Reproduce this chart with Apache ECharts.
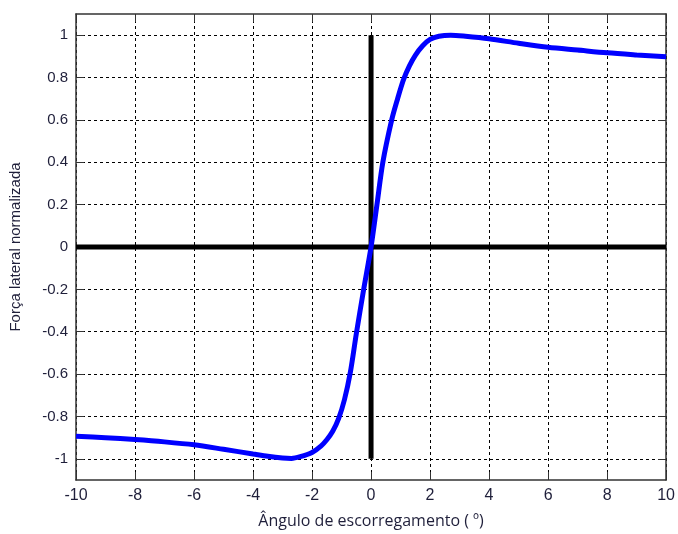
<!DOCTYPE html>
<html>
<head>
<meta charset="utf-8">
<script src="https://cdn.jsdelivr.net/npm/echarts@6/dist/echarts.min.js"></script>
<style>
  html, body { margin: 0; padding: 0; background: #fff; }
  #chart { width: 678px; height: 534px; }
</style>
</head>
<body>
<div id="chart"></div>
<script>
// valores
var angulo = [-10, -9, -8, -7, -6, -5, -4, -3.5, -3, -2.7, -2.4, -2, -1.7, -1.5, -1.3, -1.1, -0.9, -0.7, -0.5, -0.25,
  0, 0.2, 0.4, 0.7, 0.9, 1.1, 1.3, 1.5, 1.75, 2, 2.3, 2.7, 3.2, 4, 5, 6, 7, 8, 9, 10];
var forca = [-0.893, -0.9, -0.909, -0.92, -0.934, -0.955, -0.977, -0.988, -0.996, -0.998, -0.99, -0.97, -0.94, -0.91, -0.87, -0.81, -0.72, -0.59, -0.41, -0.2,
  0, 0.2, 0.4, 0.6, 0.7, 0.79, 0.855, 0.905, 0.95, 0.98, 0.995, 1.0, 0.995, 0.983, 0.962, 0.943, 0.93, 0.917, 0.907, 0.898];
var eixoVertical = [[0, -1], [0, 1]];
var eixoHorizontal = [[-10, 0], [10, 0]];
var yTicks = [-1, -0.8, -0.6, -0.4, -0.2, 0, 0.2, 0.4, 0.6, 0.8, 1];

var curva = angulo.map(function (a, i) { return [a, forca[i]]; });

var chart = echarts.init(document.getElementById('chart'));
var corTexto = '#1f1f3a';
var frame = { show: true, onZero: false, lineStyle: { color: '#333', width: 1.5 } };
var grade = { show: true, lineStyle: { color: '#000', type: [3, 3], width: 1 } };

chart.setOption({
  animation: false,
  grid: { left: 76, right: 7, top: 14, bottom: 50 },
  xAxis: [{
    type: 'value', min: -10, max: 10, interval: 2,
    name: 'Ângulo de escorregamento ( º)', nameLocation: 'middle', nameGap: 33,
    nameTextStyle: { fontFamily: 'Open Sans', fontSize: 16, color: corTexto },
    axisLine: frame, axisTick: { inside: true, length: 8, lineStyle: { color: '#333' } },
    axisLabel: { fontFamily: 'Liberation Sans', fontSize: 16, color: corTexto, margin: 8 },
    splitLine: grade
  }, {
    type: 'value', min: -10, max: 10, interval: 2, position: 'top',
    axisLine: frame, axisTick: { inside: true, length: 8, lineStyle: { color: '#333' } },
    axisLabel: { show: false }, splitLine: { show: false }
  }],
  yAxis: [{
    type: 'value', min: -1.1, max: 1.1,
    name: 'Força lateral normalizada', nameLocation: 'middle', nameGap: 53,
    nameTextStyle: { fontFamily: 'Liberation Sans', fontSize: 15, color: corTexto },
    axisLine: frame,
    axisTick: { inside: true, length: 8, customValues: yTicks, lineStyle: { color: '#333' } },
    axisLabel: { customValues: yTicks, fontFamily: 'Liberation Sans', fontSize: 15, color: corTexto, margin: 8 },
    splitLine: grade
  }, {
    type: 'value', min: -1.1, max: 1.1, position: 'right',
    axisLine: frame,
    axisTick: { inside: true, length: 8, customValues: yTicks, lineStyle: { color: '#333' } },
    axisLabel: { show: false }, splitLine: { show: false }
  }],
  series: [{
    type: 'line', data: eixoHorizontal, symbol: 'none',
    lineStyle: { color: '#000', width: 5 }, z: 3
  }, {
    type: 'line', data: eixoVertical, symbol: 'none',
    lineStyle: { color: '#000', width: 5 }, z: 3
  }, {
    type: 'line', data: curva, symbol: 'none', smooth: 0.3,
    lineStyle: { color: '#0000ff', width: 5 }, z: 4
  }]
});
</script>
</body>
</html>
